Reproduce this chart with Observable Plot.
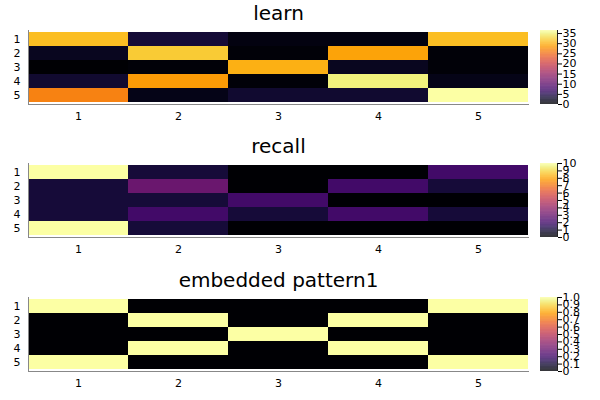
<!DOCTYPE html>
<html>
<head>
<meta charset="utf-8">
<script src="https://cdn.jsdelivr.net/npm/d3@7"></script>
<script src="https://cdn.jsdelivr.net/npm/@observablehq/plot@0.6"></script>
<style>
  html, body { margin: 0; padding: 0; background: #fff; }
  #root { position: relative; width: 600px; height: 400px; background: #fff; font-family: "DejaVu Sans", sans-serif; overflow: hidden; }
  #root > div { position: absolute; }
  svg { overflow: visible; }
</style>
</head>
<body>
<div id="root"></div>
<script>
// ---- data ----
const rows = [1, 2, 3, 4, 5];
const cols = [1, 2, 3, 4, 5];

const titles = ["learn", "recall", "embedded pattern1"];

const learnValues = [
  [31, 3.5, 1, 1, 31],
  [2, 32, 0.5, 29, 0.5],
  [0, 0.5, 30, 2, 0.5],
  [3, 28.5, 0.5, 35, 1.5],
  [26.5, 1.5, 3, 3, 36.5]
];
const recallValues = [
  [10, 1, 0, 0, 2],
  [1, 3, 0, 2, 1],
  [1, 1, 2, 0, 0],
  [1, 2, 1, 2, 1],
  [10, 1, 0, 0, 0]
];
const patternValues = [
  [1, 0, 0, 0, 1],
  [0, 1, 0, 1, 0],
  [0, 0, 1, 0, 0],
  [0, 1, 0, 1, 0],
  [1, 0, 0, 0, 1]
];

const learnTicks = [0, 5, 10, 15, 20, 25, 30, 35];
const recallTicks = [0, 1, 2, 3, 4, 5, 6, 7, 8, 9, 10];
const patternTicks = [0, 0.1, 0.2, 0.3, 0.4, 0.5, 0.6, 0.7, 0.8, 0.9, 1.0];
const patternTickLabels = ["0", "0.1", "0.2", "0.3", "0.4", "0.5", "0.6", "0.7", "0.8", "0.9", "1.0"];

// ---- layout ----
const panels = [
  {title: titles[0], values: learnValues, ticks: learnTicks, fmt: d => String(d), top: 30, h: 74},
  {title: titles[1], values: recallValues, ticks: recallTicks, fmt: d => String(d), top: 163, h: 74},
  {title: titles[2], values: patternValues, ticks: patternTicks, fmt: (d, i) => patternTickLabels[patternTicks.indexOf(d)], top: 297, h: 74}
];

const root = document.getElementById("root");
const FONT = "DejaVu Sans, sans-serif";

function place(el, left, top) {
  const wrap = document.createElement("div");
  wrap.style.left = left + "px";
  wrap.style.top = top + "px";
  wrap.appendChild(el);
  root.appendChild(wrap);
}

for (const p of panels) {
  const data = [];
  p.values.forEach((r, i) => r.forEach((v, j) => data.push({row: rows[i], col: cols[j], value: v})));
  const vmax = d3.max(data, d => d.value);
  const color = {type: "linear", scheme: "inferno", domain: [0, vmax]};
  const mt = 30, mb = 26;

  const heat = Plot.plot({
    width: 535,
    height: mt + p.h + mb,
    marginTop: mt,
    marginBottom: mb,
    marginLeft: 28,
    marginRight: 7,
    style: {fontFamily: FONT, fontSize: "11px", color: "#000", background: "transparent"},
    x: {type: "band", domain: cols, padding: 0, label: null, tickSize: 0, tickPadding: 8},
    y: {type: "band", domain: rows, padding: 0, label: null, tickSize: 0, tickPadding: 8},
    color,
    marks: [
      Plot.cell(data, {x: "col", y: "row", fill: "value", inset: 0}),
      Plot.frame({anchor: "bottom", stroke: "#888"}),
      Plot.frame({anchor: "left", stroke: "#888"}),
      Plot.text([p.title], {frameAnchor: "top", dy: -11, lineAnchor: "bottom", fontSize: 20, fill: "#000", text: d => d})
    ]
  });
  place(heat, 0, p.top - mt);

  // colorbar
  const nSteps = 120;
  const step = vmax / nSteps;
  const steps = d3.range(nSteps).map(i => i * step);
  const bar = Plot.plot({
    width: 65,
    height: mt + p.h + mb,
    marginTop: mt,
    marginBottom: mb,
    marginLeft: 5,
    marginRight: 43,
    style: {fontFamily: FONT, fontSize: "11px", color: "#000", background: "transparent"},
    x: {domain: [0, 1], axis: null},
    y: {domain: [0, vmax], axis: "right", ticks: p.ticks, tickFormat: p.fmt, tickSize: 4, tickPadding: 1, label: null},
    color,
    marks: [
      Plot.rect(steps, {x1: 0, x2: 1, y1: d => d, y2: d => Math.min(vmax, d + step * 1.05), fill: d => d + step / 2}),
      Plot.ruleX([1], {stroke: "#222"})
    ]
  });
  place(bar, 535, p.top - mt);
}
</script>
</body>
</html>
